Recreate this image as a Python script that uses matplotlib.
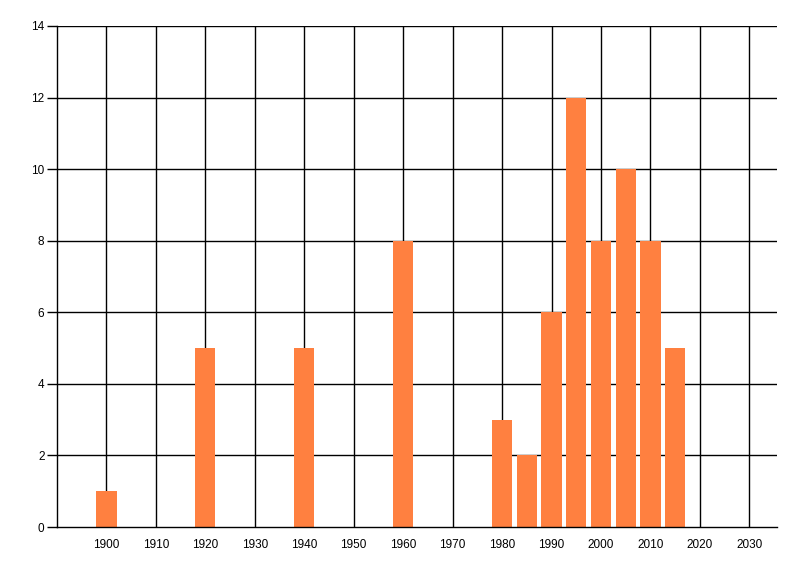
import matplotlib
matplotlib.use("Agg")
import matplotlib.pyplot as plt

years = [1900, 1920, 1940, 1960, 1980, 1985, 1990, 1995, 2000, 2005, 2010, 2015]
counts = [1, 5, 5, 8, 3, 2, 6, 12, 8, 10, 8, 5]
x_ticks = list(range(1900, 2031, 10))
y_ticks = list(range(0, 15, 2))

plt.rcParams['font.family'] = ['Liberation Sans', 'DejaVu Sans']

fig = plt.figure(figsize=(8, 5.76), dpi=100)
ax = fig.add_axes([57/800, 1 - 527/576, (777-57)/800, (527-26)/576])

ax.set_xlim(1890, 2035.6)
ax.set_ylim(0, 14)

for xv in x_ticks:
    ax.axvline(xv, color='black', lw=1.0, zorder=1)
for yv in y_ticks[1:]:
    ax.axhline(yv, color='black', lw=1.0, zorder=1)

ax.bar(years, counts, width=4.1, color='#FF8040', zorder=2)

ax.set_xticks(x_ticks)
ax.set_xticklabels([str(v) for v in x_ticks], fontsize=8.5)
ax.set_yticks(y_ticks)
ax.set_yticklabels([str(v) for v in y_ticks], fontsize=8.5)
ax.tick_params(axis='x', length=0, pad=9)
ax.tick_params(axis='y', length=7, width=1.0, pad=2)

for s in ['top', 'right']:
    ax.spines[s].set_visible(False)
ax.spines['left'].set_linewidth(1.0)
ax.spines['bottom'].set_linewidth(1.0)

fig.savefig('out.png', dpi=100)
